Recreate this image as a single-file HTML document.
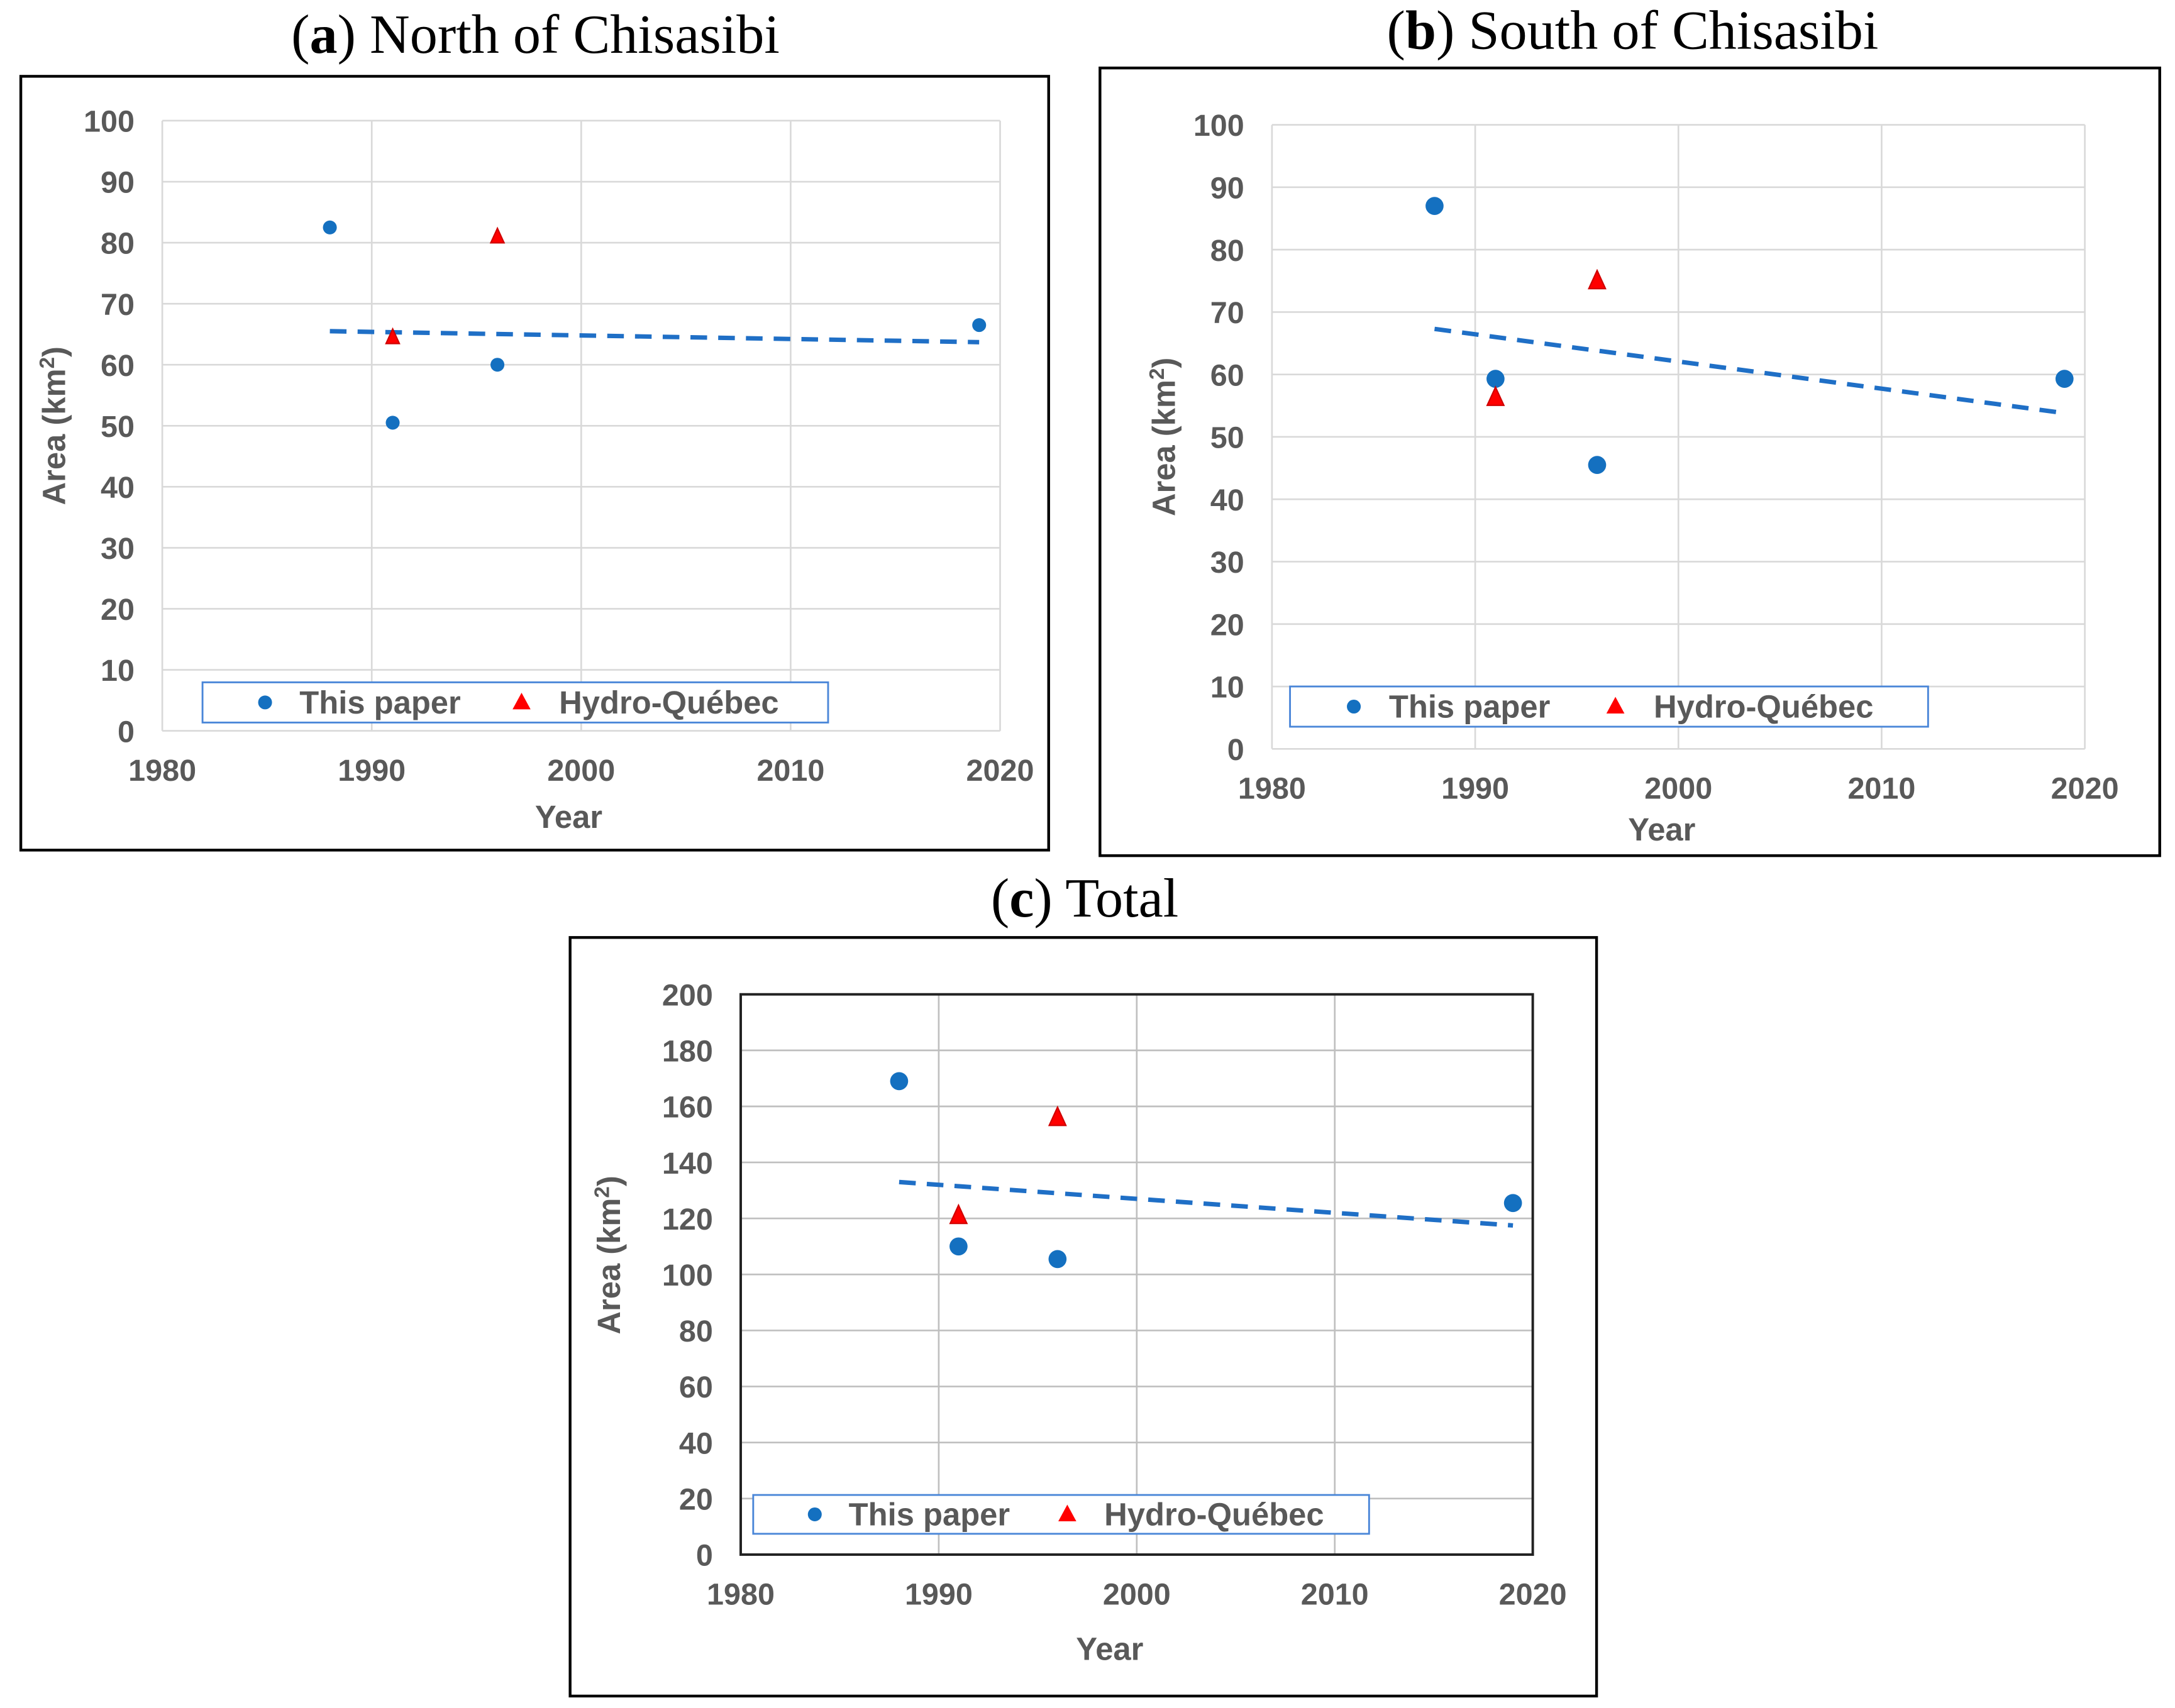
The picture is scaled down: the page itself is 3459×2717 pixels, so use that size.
<!DOCTYPE html>
<html><head><meta charset="utf-8"><style>
html,body{margin:0;padding:0;background:#fff}
svg{display:block}
</style></head><body>
<svg id="fig" width="3459" height="2717" viewBox="0 0 1568 1231.6" xmlns="http://www.w3.org/2000/svg">
<rect width="1568" height="1232" fill="#fff"/>
<g font-family="Liberation Serif, serif" font-size="40" fill="#000" text-anchor="middle">
<text x="386" y="38">(<tspan font-weight="bold">a</tspan>) North of Chisasibi</text>
<text x="1177" y="35">(<tspan font-weight="bold">b</tspan>) South of Chisasibi</text>
<text x="782" y="661">(<tspan font-weight="bold">c</tspan>) Total</text>
</g>
</svg>
<script>
const years = [1988, 1991, 1996, 2019];
const hqYears = [1991, 1996];
const paperA = [82.5, 50.5, 60, 66.5];
const hqA = [64.5, 81];
const trendA = [65.5, 63.7];
const paperB = [87, 59.3, 45.5, 59.3];
const hqB = [56.3, 75];
const trendB = [67.3, 53.8];
const paperC = [169, 110, 105.5, 125.5];
const hqC = [121, 156];
const trendC = [133, 117.5];
const trendYears = [1988, 2019];
const xTicks = [1980, 1990, 2000, 2010, 2020];
const yTicksAB = [0,10,20,30,40,50,60,70,80,90,100];
const yTicksC = [0,20,40,60,80,100,120,140,160,180,200];

const NS = 'http://www.w3.org/2000/svg';
const svg = document.getElementById('fig');
function mk(tag, attrs, parent){const e=document.createElementNS(NS,tag);for(const k in attrs)e.setAttribute(k,attrs[k]);(parent||svg).appendChild(e);return e;}
const SANS='Liberation Sans, Arial, sans-serif';

function panel(id, cfg){
  const g = mk('g',{});
  
  
  const fr = mk('rect',{x:cfg.frame[0],y:cfg.frame[1],width:cfg.frame[2]-cfg.frame[0],height:cfg.frame[3]-cfg.frame[1],fill:'#fff',stroke:'#000','stroke-width':2},g);
  
  
  const [x0,x1,y0,y1] = cfg.plot;
  const ymax = cfg.yTicks[cfg.yTicks.length-1];
  const sx = v => x0 + (v-1980)/40*(x1-x0);
  const sy = v => y1 - v/ymax*(y1-y0);
  cfg.yTicks.forEach(t=>{
    const l = mk('line',{x1:x0,x2:x1,y1:sy(t),y2:sy(t),stroke:cfg.grid,'stroke-width':1.2},g);
    
    
    const tx = mk('text',{x:x0-20,y:sy(t)+8,'text-anchor':'end','font-family':SANS,'font-weight':'bold','font-size':22,fill:'#595959'},g);
    tx.textContent = t;
    
    
  });
  xTicks.forEach(t=>{
    const l = mk('line',{x1:sx(t),x2:sx(t),y1:y0,y2:y1,stroke:cfg.grid,'stroke-width':1.2},g);
    
    
    const tx = mk('text',{x:sx(t),y:y1+36,'text-anchor':'middle','font-family':SANS,'font-weight':'bold','font-size':22,fill:'#595959'},g);
    tx.textContent = t;
    
    
  });
  if(cfg.border){
    const b = mk('rect',{x:x0,y:y0,width:x1-x0,height:y1-y0,fill:'none',stroke:'#222','stroke-width':1.8},g);
    
    
  }
  const xt = mk('text',{x:cfg.xTitle[0],y:cfg.xTitle[1],'text-anchor':'middle','font-family':SANS,'font-weight':'bold','font-size':23,fill:'#595959'},g);
  xt.textContent='Year';
  
  
  const yt = mk('text',{transform:`translate(${cfg.yTitle[0]},${cfg.yTitle[1]}) rotate(-90)`,'text-anchor':'middle','font-family':SANS,'font-weight':'bold','font-size':23,fill:'#595959'},g);
  yt.innerHTML = 'Area (km<tspan dy="-8" font-size="15">2</tspan><tspan dy="8">)</tspan>';
  
  
  const tl = mk('line',{x1:sx(trendYears[0]),y1:sy(cfg.trend[0]),x2:sx(trendYears[1]),y2:sy(cfg.trend[1]),stroke:'#1f6fc6','stroke-width':3.2,'stroke-dasharray':'12,8'},g);
  
  
  cfg.paper.forEach((v,i)=>{
    const c = mk('circle',{cx:sx(years[i]),cy:sy(v),r:cfg.r,fill:'#1470c0'},g);
    
    
  });
  cfg.hq.forEach((v,i)=>{
    const x=sx(hqYears[i]), y=sy(v), s=cfg.r+1;
    const p = mk('polygon',{points:`${x},${y-s} ${x-s*0.8},${y+s*0.75} ${x+s*0.8},${y+s*0.75}`,fill:'#ff0000',stroke:'#d00000','stroke-width':1},g);
    
    
  });
  const [lx0,ly0,lx1,ly1] = cfg.legend;
  const lg = mk('g',{},g);
  
  
  mk('rect',{x:lx0,y:ly0,width:lx1-lx0,height:ly1-ly0,fill:'#fff',stroke:'#4a86d8','stroke-width':1.3},lg);
  const my=(ly0+ly1)/2;
  const w=lx1-lx0;
  const c = mk('circle',{cx:lx0+w*0.1,cy:my,r:5,fill:'#1470c0'},lg);
  
  
  const t1 = mk('text',{x:lx0+w*0.155,y:my+8,'font-family':SANS,'font-weight':'bold','font-size':23,fill:'#595959'},lg);
  t1.textContent='This paper';
  
  
  const tx=lx0+w*0.51;
  const p = mk('polygon',{points:`${tx},${my-7} ${tx-6.5},${my+5} ${tx+6.5},${my+5}`,fill:'#ff0000'},lg);
  
  
  const t2 = mk('text',{x:lx0+w*0.57,y:my+8,'font-family':SANS,'font-weight':'bold','font-size':23,fill:'#595959'},lg);
  t2.textContent='Hydro-Québec';
  
  
}

panel('a',{frame:[15,55,756,613],plot:[117,721,87,527],yTicks:yTicksAB,grid:'#d9d9d9',xTitle:[410,597],yTitle:[47,307],trend:trendA,paper:paperA,hq:hqA,r:5,legend:[146,492,597,521]});
panel('b',{frame:[793,49,1557,617],plot:[917,1503,90,540],yTicks:yTicksAB,grid:'#d9d9d9',xTitle:[1198,606],yTitle:[847,315],trend:trendB,paper:paperB,hq:hqB,r:6.5,legend:[930,495,1390,524]});
panel('c',{frame:[411,676,1151,1223],plot:[534,1105,717,1121],yTicks:yTicksC,grid:'#bfbfbf',border:true,xTitle:[800,1197],yTitle:[447,905],trend:trendC,paper:paperC,hq:hqC,r:6.5,legend:[543,1078,987,1106]});
</script>
</body></html>
